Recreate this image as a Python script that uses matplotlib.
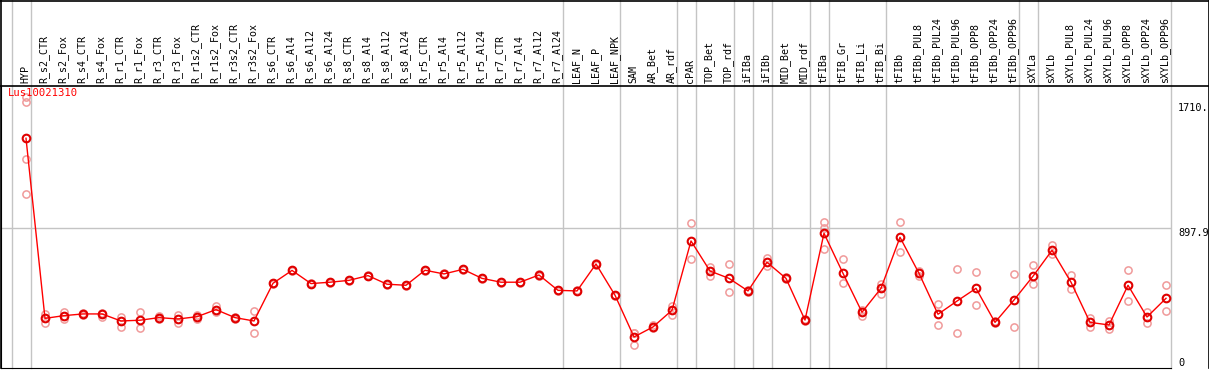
import matplotlib
matplotlib.use('Agg')
import matplotlib.pyplot as plt
from matplotlib.lines import Line2D
import matplotlib.transforms as mtrans

gene = 'Lus10021310'

labels = ['HYP', 'R_s2_CTR', 'R_s2_Fox', 'R_s4_CTR', 'R_s4_Fox', 'R_r1_CTR', 'R_r1_Fox',
          'R_r3_CTR', 'R_r3_Fox', 'R_r1s2_CTR', 'R_r1s2_Fox', 'R_r3s2_CTR', 'R_r3s2_Fox',
          'R_s6_CTR', 'R_s6_Al4', 'R_s6_Al12', 'R_s6_Al24', 'R_s8_CTR', 'R_s8_Al4',
          'R_s8_Al12', 'R_s8_Al24', 'R_r5_CTR', 'R_r5_Al4', 'R_r5_Al12', 'R_r5_Al24',
          'R_r7_CTR', 'R_r7_Al4', 'R_r7_Al12', 'R_r7_Al24', 'LEAF_N', 'LEAF_P', 'LEAF_NPK',
          'SAM', 'AR_Bet', 'AR_rdf', 'cPAR', 'TOP_Bet', 'TOP_rdf', 'iFIBa', 'iFIBb',
          'MID_Bet', 'MID_rdf', 'tFIBa', 'tFIB_Gr', 'tFIB_Li', 'tFIB_Bi', 'tFIBb',
          'tFIBb_PUL8', 'tFIBb_PUL24', 'tFIBb_PUL96', 'tFIBb_OPP8', 'tFIBb_OPP24',
          'tFIBb_OPP96', 'sXYLa', 'sXYLb', 'sXYLb_PUL8', 'sXYLb_PUL24', 'sXYLb_PUL96',
          'sXYLb_OPP8', 'sXYLb_OPP24', 'sXYLb_OPP96']

means = [1483, 308, 326, 337, 337, 291, 296, 313, 304, 319, 365, 313, 291,
         537, 621, 535, 544, 556, 587, 531, 524, 622, 598, 628, 569, 544, 544, 591, 491,
         487, 663, 459, 187, 252, 361, 813, 617, 569, 487, 674, 569, 297,
         863, 602, 348, 504, 837, 602, 335, 421, 504, 282, 428,
         583, 752, 544, 282, 265, 524, 317, 439]

replicates = [[1752, 1722, 1350, 1117], [337, 280], [352, 302], [345, 330], [346, 318],
              [320, 252], [350, 247], [321, 306], [332, 278], [328, 302], [387, 348],
              [320, 306], [354, 215], [540, 534], [626, 616], [538, 532], [547, 541],
              [559, 553], [591, 583], [534, 528], [527, 521], [626, 618], [601, 595],
              [632, 624], [573, 565], [547, 541], [547, 541], [595, 587], [494, 488],
              [490, 484], [667, 659], [462, 456], [214, 212, 134], [262, 243], [389, 332],
              [928, 693], [645, 583], [663, 478], [495, 480], [704, 652], [575, 562],
              [303, 291], [937, 900, 762], [693, 537], [360, 326], [534, 469], [935, 743],
              [620, 585], [400, 263], [628, 213], [611, 393], [290, 275], [596, 250],
              [656, 530], [787, 728], [591, 502], [313, 254], [293, 239], [622, 421],
              [350, 276], [524, 354]]

# group separators sit just right of these columns
group_ends = [-1, 0, 28, 31, 34, 35, 37, 38, 39, 41, 42, 45, 52, 53, 60]

W, H = 1209, 370
fig = plt.figure(figsize=(W / 100, H / 100), dpi=100)
ax = fig.add_axes([1 / W, 2 / H, 1170 / W, 282 / H])

x = list(range(len(labels)))
ax.set_xlim(-25 / 19, 1145 / 19)
ax.set_ylim(-15.7, 1824)

grey = '#c4c4c4'
ax.axhline(897.9, color=grey, lw=1, zorder=1)
for g in group_ends:
    ax.axvline(g + 0.24, ymin=0, ymax=368 / 282, color=grey, lw=1, clip_on=False, zorder=1)

for i, reps in enumerate(replicates):
    ax.plot([i] * len(reps), reps, 'o', ms=5.2, mfc='none', mec='#f09a9a', mew=1.1, zorder=2)
ax.plot(x, means, '-', color='red', lw=1, zorder=3)
ax.plot(x, means, 'o', ms=5.5, mfc='none', mec='#e00000', mew=1.5, zorder=4)

mono = 'DejaVu Sans Mono'
hdr = mtrans.blended_transform_factory(ax.transData, ax.transAxes)
for i, lab in enumerate(labels):
    ax.text(i - 0.05, 285 / 282, lab, transform=hdr, rotation=90, ha='center', va='bottom',
            family=mono, fontsize=7.2, color='black', clip_on=False)

ax.text(7 / 1170, 1812, gene, color='red', family=mono, fontsize=7.6,
        transform=mtrans.blended_transform_factory(ax.transAxes, ax.transData),
        ha='left', va='top')

rt = mtrans.blended_transform_factory(ax.transAxes, ax.transData)
ax.text(1177 / 1170, 1710, '1710.', transform=rt, family=mono, fontsize=7.4, va='top', clip_on=False)
ax.text(1177 / 1170, 897.9, '897.9', transform=rt, family=mono, fontsize=7.4, va='top', clip_on=False)
ax.text(1177 / 1170, 0, '0', transform=rt, family=mono, fontsize=7.4, va='baseline', clip_on=False)

ax.set_xticks([])
ax.set_yticks([])
for s in ['top', 'right']:
    ax.spines[s].set_visible(False)
ax.spines['left'].set_color('black')
ax.spines['bottom'].set_color('black')

# outer frame and header rule
fig.add_artist(Line2D([0, 1], [(H - 85.5) / H] * 2, color='black', lw=1.2))
fig.add_artist(Line2D([0, 1], [1 - 0.5 / H] * 2, color='black', lw=1.2))
fig.add_artist(Line2D([1 - 0.5 / W] * 2, [2 / H, 1], color='black', lw=1.2))
fig.add_artist(Line2D([0.5 / W] * 2, [2 / H, 1], color='black', lw=1.2))

fig.savefig('out.png', dpi=100)
